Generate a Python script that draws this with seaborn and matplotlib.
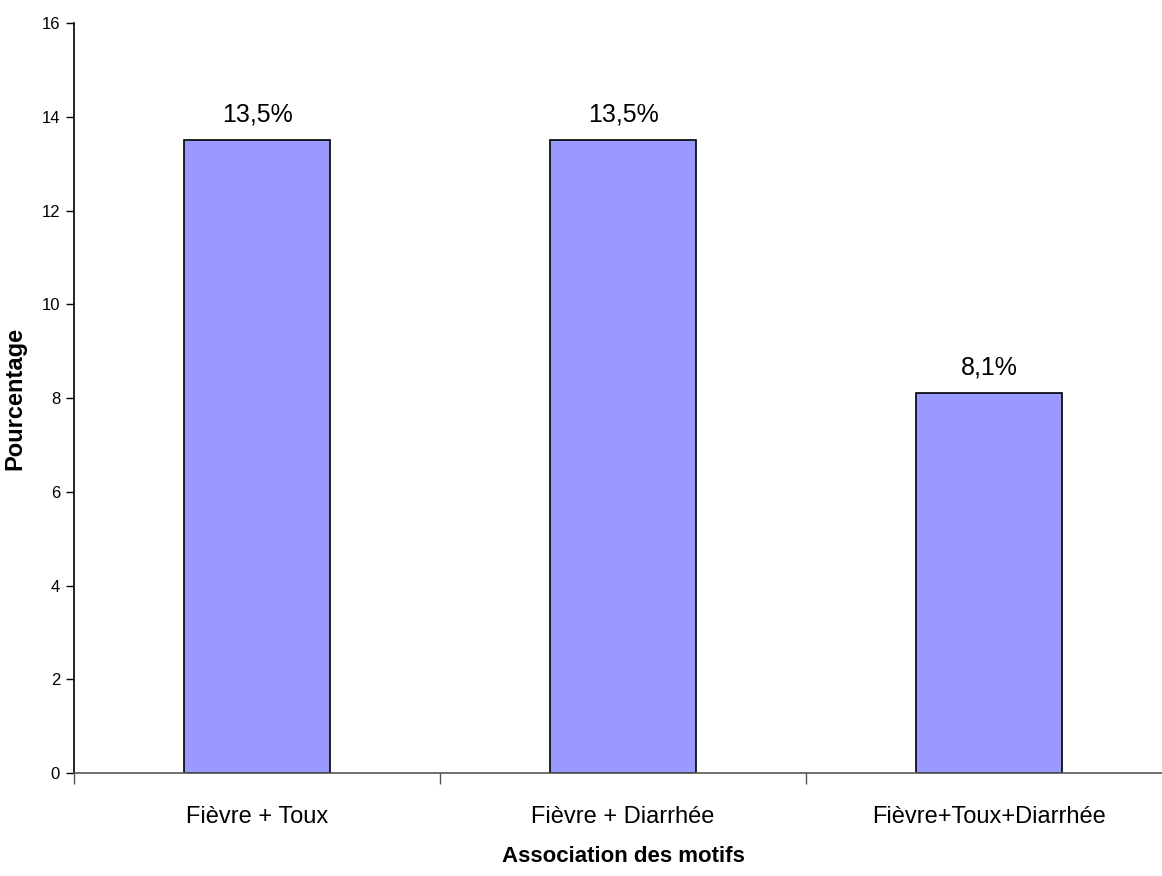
import matplotlib
matplotlib.use("Agg")
import matplotlib.pyplot as plt
import seaborn as sns
import pandas as pd

sns.set_style("white")
plt.rcParams["font.family"] = ["Liberation Sans", "DejaVu Sans"]
plt.rcParams["text.color"] = "black"
plt.rcParams["axes.labelcolor"] = "black"
plt.rcParams["xtick.color"] = "black"
plt.rcParams["ytick.color"] = "black"

categories = ["Fièvre + Toux", "Fièvre + Diarrhée", "Fièvre+Toux+Diarrhée"]
percent = [13.5, 13.5, 8.1]

df = pd.DataFrame({"motif": categories, "pct": percent})

fig = plt.figure(figsize=(11.62, 8.76), dpi=100)
ax = fig.add_axes([74 / 1162, 103 / 876, 1098 / 1162, 750 / 876])

sns.barplot(data=df, x="motif", y="pct", color="#9999FF", saturation=1,
            edgecolor="black", linewidth=1.2, width=0.4, ax=ax)

labels = [f"{v:.1f}".replace(".", ",") + "%" for v in percent]
ax.bar_label(ax.containers[0], labels=labels, padding=10, fontsize=18)

ax.set_xlim(-0.5, 2.5)
ax.set_ylim(0, 16)
ax.set_yticks(range(0, 17, 2))
ax.tick_params(axis="y", which="major", left=True, length=6, width=1,
               labelsize=12, pad=4)
ax.tick_params(axis="x", which="major", length=0, labelsize=17, pad=24)
ax.set_xticks([-0.5, 0.5, 1.5], minor=True)
ax.tick_params(axis="x", which="minor", bottom=True, length=8, width=1, color="#555555")

for s in ["top", "right"]:
    ax.spines[s].set_visible(False)
ax.spines["left"].set_color("black")
ax.spines["left"].set_linewidth(1.2)
ax.spines["bottom"].set_color("#555555")
ax.spines["bottom"].set_linewidth(1.2)

ax.set_xlabel("Association des motifs", fontsize=16, fontweight="bold")
ax.xaxis.set_label_coords(0.5, -0.098)
ax.set_ylabel("Pourcentage", fontsize=17, fontweight="bold")
ax.yaxis.set_label_coords(-0.043, 0.5)

fig.savefig("out.png", dpi=100)
